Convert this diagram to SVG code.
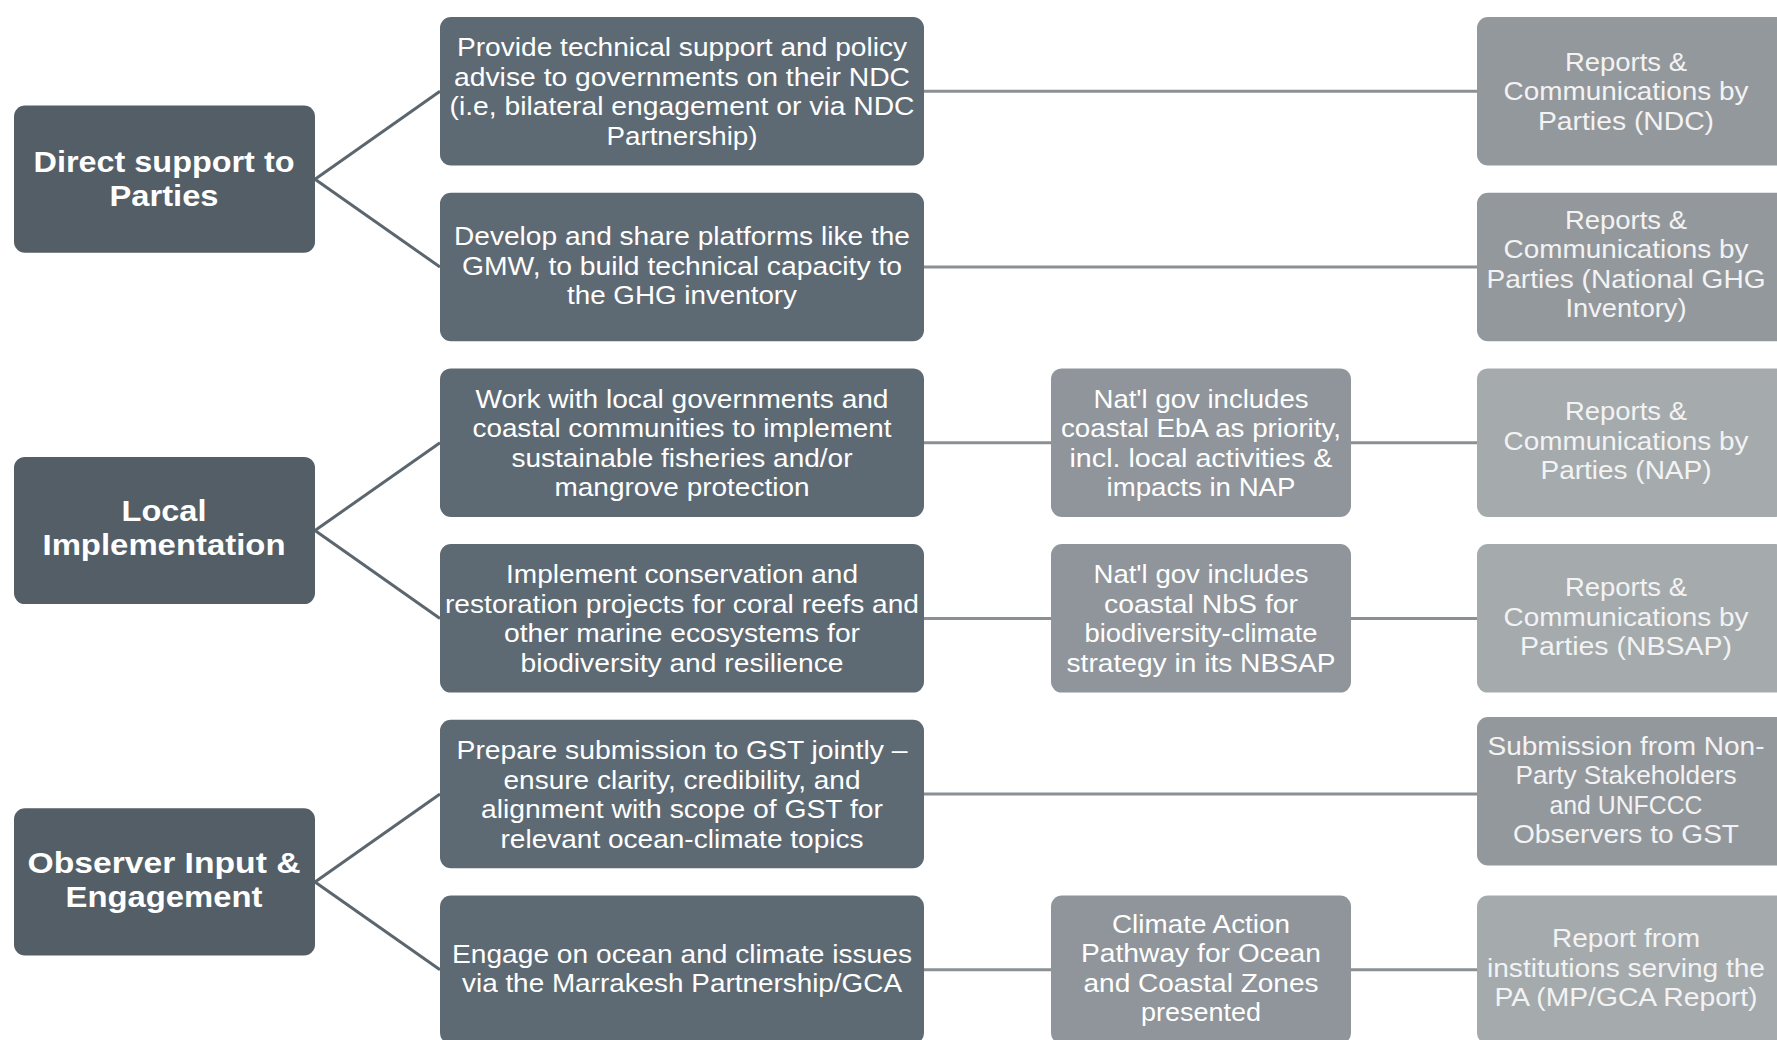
<svg xmlns="http://www.w3.org/2000/svg" width="1777" height="1040" viewBox="0 0 1777 1040">
<style>
.bg{fill:#ffffff}
.lb{fill:#535e66}
.ab{fill:#5e6a73}
.bb{fill:#8f959a}
.cb{fill:#93989c}
.cl{fill:#a5aaad}
.t{font-family:"Liberation Sans",Arial,sans-serif;font-size:26px;fill:#ffffff;text-anchor:middle}
.tc{font-family:"Liberation Sans",Arial,sans-serif;font-size:26px;fill:#f3f3f3;text-anchor:middle}
.tb{font-family:"Liberation Sans",Arial,sans-serif;font-size:29px;font-weight:bold;fill:#ffffff;text-anchor:middle}
.d{stroke:#5c666e;stroke-width:3;fill:none}
.h{stroke:#8a9095;stroke-width:3;fill:none}
</style>
<rect class="bg" x="0" y="0" width="1777" height="1040"/>
<g id="connectors">
<line class="d" x1="315" y1="179.2" x2="440" y2="91.3"/>
<line class="d" x1="315" y1="179.2" x2="440" y2="267"/>
<line class="d" x1="315" y1="530.5" x2="440" y2="442.7"/>
<line class="d" x1="315" y1="530.5" x2="440" y2="618.4"/>
<line class="d" x1="315" y1="881.9" x2="440" y2="794.1"/>
<line class="d" x1="315" y1="881.9" x2="440" y2="969.8"/>
<line class="h" x1="924" y1="91.3" x2="1477" y2="91.3"/>
<line class="h" x1="924" y1="267" x2="1477" y2="267"/>
<line class="h" x1="924" y1="442.7" x2="1051" y2="442.7"/>
<line class="h" x1="1351" y1="442.7" x2="1477" y2="442.7"/>
<line class="h" x1="924" y1="618.4" x2="1051" y2="618.4"/>
<line class="h" x1="1351" y1="618.4" x2="1477" y2="618.4"/>
<line class="h" x1="924" y1="794.1" x2="1477" y2="794.1"/>
<line class="h" x1="924" y1="969.8" x2="1051" y2="969.8"/>
<line class="h" x1="1351" y1="969.8" x2="1477" y2="969.8"/>
</g>
<g id="L1">
<rect class="lb" x="14" y="105.6" width="301" height="147.2" rx="11"/>
<text class="tb" x="164" y="172" textLength="261" lengthAdjust="spacingAndGlyphs">Direct support to</text>
<text class="tb" x="164" y="206" textLength="109" lengthAdjust="spacingAndGlyphs">Parties</text>
</g>
<g id="L2">
<rect class="lb" x="14" y="456.9" width="301" height="147.2" rx="11"/>
<text class="tb" x="164" y="521" textLength="85" lengthAdjust="spacingAndGlyphs">Local</text>
<text class="tb" x="164" y="555" textLength="243" lengthAdjust="spacingAndGlyphs">Implementation</text>
</g>
<g id="L3">
<rect class="lb" x="14" y="808.3" width="301" height="147.2" rx="11"/>
<text class="tb" x="164" y="873" textLength="273" lengthAdjust="spacingAndGlyphs">Observer Input &amp;</text>
<text class="tb" x="164" y="907" textLength="197" lengthAdjust="spacingAndGlyphs">Engagement</text>
</g>
<g id="A1">
<rect class="ab" x="440" y="17" width="484" height="148.5" rx="11"/>
<text class="t" x="682" y="56.3" textLength="450" lengthAdjust="spacingAndGlyphs">Provide technical support and policy</text>
<text class="t" x="682" y="85.8" textLength="456" lengthAdjust="spacingAndGlyphs">advise to governments on their NDC</text>
<text class="t" x="682" y="115.3" textLength="465" lengthAdjust="spacingAndGlyphs">(i.e, bilateral engagement or via NDC</text>
<text class="t" x="682" y="144.8" textLength="151" lengthAdjust="spacingAndGlyphs">Partnership)</text>
</g>
<g id="A2">
<rect class="ab" x="440" y="192.7" width="484" height="148.5" rx="11"/>
<text class="t" x="682" y="245" textLength="456" lengthAdjust="spacingAndGlyphs">Develop and share platforms like the</text>
<text class="t" x="682" y="274.5" textLength="440" lengthAdjust="spacingAndGlyphs">GMW, to build technical capacity to</text>
<text class="t" x="682" y="304" textLength="230" lengthAdjust="spacingAndGlyphs">the GHG inventory</text>
</g>
<g id="A3">
<rect class="ab" x="440" y="368.4" width="484" height="148.5" rx="11"/>
<text class="t" x="682" y="407.7" textLength="413" lengthAdjust="spacingAndGlyphs">Work with local governments and</text>
<text class="t" x="682" y="437.2" textLength="419" lengthAdjust="spacingAndGlyphs">coastal communities to implement</text>
<text class="t" x="682" y="466.7" textLength="341" lengthAdjust="spacingAndGlyphs">sustainable fisheries and/or</text>
<text class="t" x="682" y="496.2" textLength="255" lengthAdjust="spacingAndGlyphs">mangrove protection</text>
</g>
<g id="A4">
<rect class="ab" x="440" y="544.1" width="484" height="148.5" rx="11"/>
<text class="t" x="682" y="583.4" textLength="352" lengthAdjust="spacingAndGlyphs">Implement conservation and</text>
<text class="t" x="682" y="612.9" textLength="474" lengthAdjust="spacingAndGlyphs">restoration projects for coral reefs and</text>
<text class="t" x="682" y="642.4" textLength="356" lengthAdjust="spacingAndGlyphs">other marine ecosystems for</text>
<text class="t" x="682" y="671.9" textLength="323" lengthAdjust="spacingAndGlyphs">biodiversity and resilience</text>
</g>
<g id="A5">
<rect class="ab" x="440" y="719.8" width="484" height="148.5" rx="11"/>
<text class="t" x="682" y="759.1" textLength="451" lengthAdjust="spacingAndGlyphs">Prepare submission to GST jointly –</text>
<text class="t" x="682" y="788.6" textLength="357" lengthAdjust="spacingAndGlyphs">ensure clarity, credibility, and</text>
<text class="t" x="682" y="818.1" textLength="402" lengthAdjust="spacingAndGlyphs">alignment with scope of GST for</text>
<text class="t" x="682" y="847.6" textLength="363" lengthAdjust="spacingAndGlyphs">relevant ocean-climate topics</text>
</g>
<g id="A6">
<rect class="ab" x="440" y="895.5" width="484" height="148.5" rx="11"/>
<text class="t" x="682" y="963" textLength="460" lengthAdjust="spacingAndGlyphs">Engage on ocean and climate issues</text>
<text class="t" x="682" y="992" textLength="440" lengthAdjust="spacingAndGlyphs">via the Marrakesh Partnership/GCA</text>
</g>
<g id="B3">
<rect class="bb" x="1051" y="368.4" width="300" height="148.5" rx="11"/>
<text class="t" x="1201" y="407.7" textLength="215" lengthAdjust="spacingAndGlyphs">Nat'l gov includes</text>
<text class="t" x="1201" y="437.2" textLength="280" lengthAdjust="spacingAndGlyphs">coastal EbA as priority,</text>
<text class="t" x="1201" y="466.7" textLength="263" lengthAdjust="spacingAndGlyphs">incl. local activities &amp;</text>
<text class="t" x="1201" y="496.2" textLength="189" lengthAdjust="spacingAndGlyphs">impacts in NAP</text>
</g>
<g id="B4">
<rect class="bb" x="1051" y="544.1" width="300" height="148.5" rx="11"/>
<text class="t" x="1201" y="583.4" textLength="215" lengthAdjust="spacingAndGlyphs">Nat'l gov includes</text>
<text class="t" x="1201" y="612.9" textLength="194" lengthAdjust="spacingAndGlyphs">coastal NbS for</text>
<text class="t" x="1201" y="642.4" textLength="233" lengthAdjust="spacingAndGlyphs">biodiversity-climate</text>
<text class="t" x="1201" y="671.9" textLength="269" lengthAdjust="spacingAndGlyphs">strategy in its NBSAP</text>
</g>
<g id="B6">
<rect class="bb" x="1051" y="895.5" width="300" height="148.5" rx="11"/>
<text class="t" x="1201" y="932.6" textLength="178" lengthAdjust="spacingAndGlyphs">Climate Action</text>
<text class="t" x="1201" y="962" textLength="240" lengthAdjust="spacingAndGlyphs">Pathway for Ocean</text>
<text class="t" x="1201" y="991.6" textLength="235" lengthAdjust="spacingAndGlyphs">and Coastal Zones</text>
<text class="t" x="1201" y="1021" textLength="120" lengthAdjust="spacingAndGlyphs">presented</text>
</g>
<g id="C1">
<rect class="cb" x="1477" y="17" width="310" height="148.5" rx="11"/>
<text class="tc" x="1626" y="70.8" textLength="122" lengthAdjust="spacingAndGlyphs">Reports &amp;</text>
<text class="tc" x="1626" y="100.3" textLength="245" lengthAdjust="spacingAndGlyphs">Communications by</text>
<text class="tc" x="1626" y="129.8" textLength="176" lengthAdjust="spacingAndGlyphs">Parties (NDC)</text>
</g>
<g id="C2">
<rect class="cb" x="1477" y="192.7" width="310" height="148.5" rx="11"/>
<text class="tc" x="1626" y="228.8" textLength="122" lengthAdjust="spacingAndGlyphs">Reports &amp;</text>
<text class="tc" x="1626" y="258.3" textLength="245" lengthAdjust="spacingAndGlyphs">Communications by</text>
<text class="tc" x="1626" y="287.8" textLength="279" lengthAdjust="spacingAndGlyphs">Parties (National GHG</text>
<text class="tc" x="1626" y="317.3" textLength="121" lengthAdjust="spacingAndGlyphs">Inventory)</text>
</g>
<g id="C3">
<rect class="cl" x="1477" y="368.4" width="310" height="148.5" rx="11"/>
<text class="tc" x="1626" y="420.4" textLength="122" lengthAdjust="spacingAndGlyphs">Reports &amp;</text>
<text class="tc" x="1626" y="449.9" textLength="245" lengthAdjust="spacingAndGlyphs">Communications by</text>
<text class="tc" x="1626" y="479.4" textLength="171" lengthAdjust="spacingAndGlyphs">Parties (NAP)</text>
</g>
<g id="C4">
<rect class="cl" x="1477" y="544.1" width="310" height="148.5" rx="11"/>
<text class="tc" x="1626" y="596" textLength="122" lengthAdjust="spacingAndGlyphs">Reports &amp;</text>
<text class="tc" x="1626" y="625.5" textLength="245" lengthAdjust="spacingAndGlyphs">Communications by</text>
<text class="tc" x="1626" y="655" textLength="212" lengthAdjust="spacingAndGlyphs">Parties (NBSAP)</text>
</g>
<g id="C5">
<rect class="cb" x="1477" y="717" width="310" height="148.5" rx="11"/>
<text class="tc" x="1626" y="754.7" textLength="277" lengthAdjust="spacingAndGlyphs">Submission from Non-</text>
<text class="tc" x="1626" y="784.2" textLength="221" lengthAdjust="spacingAndGlyphs">Party Stakeholders</text>
<text class="tc" x="1626" y="813.7" textLength="153" lengthAdjust="spacingAndGlyphs">and UNFCCC</text>
<text class="tc" x="1626" y="843.2" textLength="226" lengthAdjust="spacingAndGlyphs">Observers to GST</text>
</g>
<g id="C6">
<rect class="cl" x="1477" y="895.5" width="310" height="148.5" rx="11"/>
<text class="tc" x="1626" y="947.4" textLength="148" lengthAdjust="spacingAndGlyphs">Report from</text>
<text class="tc" x="1626" y="976.8" textLength="278" lengthAdjust="spacingAndGlyphs">institutions serving the</text>
<text class="tc" x="1626" y="1006.3" textLength="263" lengthAdjust="spacingAndGlyphs">PA (MP/GCA Report)</text>
</g>
</svg>
